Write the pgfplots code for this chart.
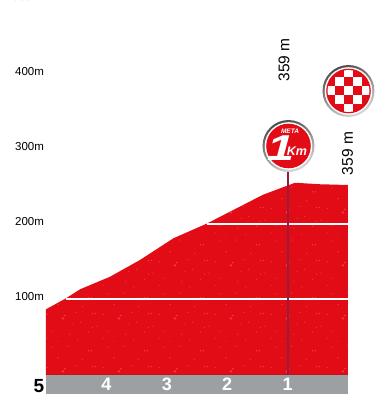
\documentclass[border=0pt]{standalone}
\usepackage{pgfplots}
\pgfplotsset{compat=1.18}
\usepackage{fontspec}
\setmainfont{Liberation Sans}
\usetikzlibrary{patterns}
\definecolor{profilered}{RGB}{226,12,22}
\definecolor{edgered}{RGB}{196,18,28}
\definecolor{specklight}{RGB}{238,58,62}
\definecolor{bandgray}{RGB}{157,160,163}
\definecolor{poleline}{RGB}{150,28,62}
\newcommand\spk[3]{\pgfpathcircle{\pgfpoint{#1pt}{#2pt}}{#3pt}\pgfusepath{fill}}
\pgfdeclarepatterninherentlycolored{speck}{\pgfpoint{0pt}{0pt}}{\pgfpoint{56pt}{53pt}}{\pgfpoint{56pt}{53pt}}{%
  \pgfsetfillcolor{specklight}%
  \spk{7}{30}{1.4}\spk{9}{33}{1.0}%
  \spk{37}{35}{0.8}\spk{40}{35}{0.8}\spk{2}{44}{0.8}\spk{20}{36}{0.7}%
  \spk{37}{21}{0.7}\spk{42}{22}{0.7}\spk{33}{16}{0.7}\spk{53}{17}{0.7}%
  \spk{14}{14}{0.7}\spk{12}{2}{0.7}\spk{33}{51}{0.8}\spk{36}{51}{0.8}\spk{53}{1}{0.7}\spk{27}{42}{0.6}\spk{48}{34}{0.6}\spk{25}{26}{0.6}%
  \spk{2}{7}{0.6}\spk{22}{8}{0.6}\spk{17}{24}{0.6}\spk{48}{10}{0.6}%
}
\newcommand\badge[2]{%
  \shade[left color=black!70,right color=black!15,shading angle=25] (#1,#2) circle (26);
  \fill[white] (#1,#2) circle (23.8);
  \fill[profilered] (#1,#2) circle (22.3);
}
\begin{document}
\begin{tikzpicture}
\useasboundingbox (-46pt,0pt) rectangle (332pt,400pt);
\begin{axis}[
  at={(0pt,6pt)}, anchor=south west,
  scale only axis, width=302pt, height=394pt,
  x dir=reverse, xmin=0, xmax=5,
  ymin=-26.67, ymax=498.67,
  clip=false,
  axis on top,
  axis line style={draw=none},
  major tick length=0pt,
  xtick={4,3,2,1}, xticklabels={4,3,2,1},
  ytick={100,200,300,400}, yticklabels={100m,200m,300m,400m},
  xticklabel style={anchor=center, yshift=9.5pt, text=white, font=\fontsize{18}{18}\selectfont\bfseries},
  yticklabel style={anchor=east, xshift=1.5pt, yshift=2pt, font=\fontsize{11.5}{13}\selectfont},
]
\addplot[fill=bandgray, draw=none] coordinates {(5,-26.67) (5,-1.33) (0,-1.33) (0,-26.67)} -- cycle;
\addplot[fill=profilered, draw=none, postaction={pattern=speck}] coordinates {
  (5,-1.33) (5,86.3) (4.669,100.9) (4.437,112.9) (3.94,129.7) (3.444,152) (2.892,180.9)
  (2.339,200.5) (1.407,239) (1.043,250) (0.877,255) (0.464,253) (0,252) (0,-1.33)
} -- cycle;
\addplot[edgered, line width=1pt] coordinates {(5,-0.7) (0,-0.7)};
\addplot[white, line width=2.4pt] coordinates {(4.669,100) (0,100)};
\addplot[white, line width=2.4pt] coordinates {(2.339,200) (0,200)};
\addplot[poleline, line width=2pt] coordinates {(1,-0.7) (1,269)};
\end{axis}
\begin{scope}[x=1pt,y=-1pt,shift={(-46pt,400pt)}]
  \node[font=\fontsize{19}{19}\selectfont\bfseries] at (39,386) {5};
  \node[font=\fontsize{11.5}{13}\selectfont, anchor=east, text=black] at (45,-3.5) {500m};
  \node[rotate=90, font=\fontsize{15.5}{16}\selectfont] at (284,60) {359 m};
  \node[rotate=90, font=\fontsize{15.5}{16}\selectfont] at (347.5,153.5) {359 m};
  % finish badge
  \badge{348.5}{91}
  \begin{scope}
    \clip (348.5,91) circle (21);
    \foreach \i/\j in {0/-2,-1/-1,1/-1,-2/0,0/0,2/0,-1/1,1/1,0/2}
      \fill[white] ({348.5+9*\i-4.5},{91+9*\j-4.5}) rectangle +(9,9);
  \end{scope}
  % 1 km badge
  \badge{288.5}{146}
  \node[text=white, font=\fontsize{6.5}{7}\selectfont\bfseries\itshape, inner sep=0] at (290,131) {META};
  \node[text=white, font=\fontsize{36}{36}\selectfont\bfseries\itshape, inner sep=0, xscale=1.35] at (281.5,148) {1};
  \node[text=white, font=\fontsize{12.5}{13}\selectfont\bfseries\itshape, inner sep=0] at (297,151) {Km};
\end{scope}
\end{tikzpicture}
\end{document}
